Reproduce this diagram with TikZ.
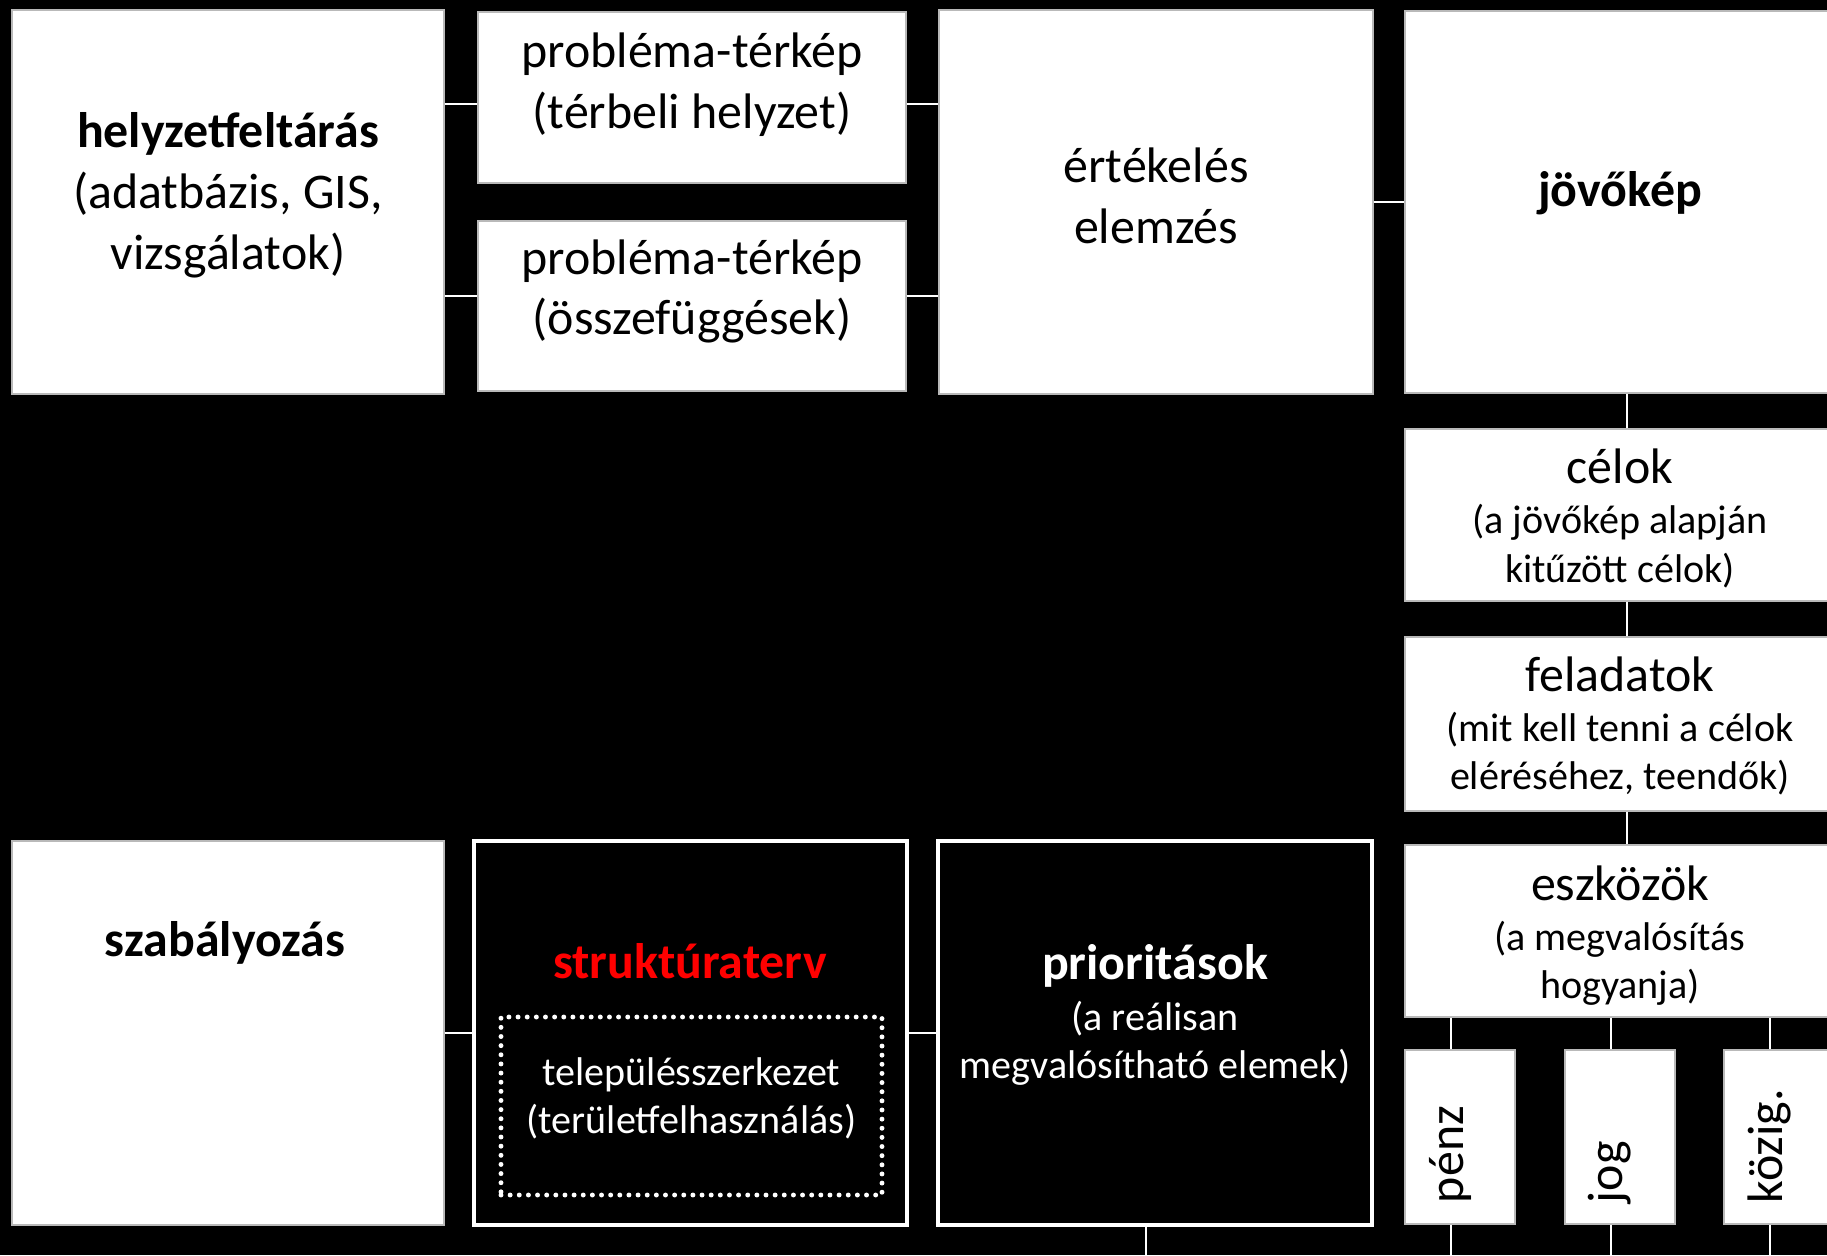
\documentclass[tikz,border=0pt]{standalone}
\usepackage{fontspec}
\setmainfont{Carlito}
\usetikzlibrary{positioning,calc}
\newcommand{\nagybetu}{\fontsize{14.2}{17.3}\selectfont}
\newcommand{\kisbetu}{\fontsize{11.4}{13.7}\selectfont}

\begin{document}
\begin{tikzpicture}[
    doboz/.style={draw=gray!55, fill=white, line width=0.4pt, inner sep=0pt},
    nagydoboz/.style={doboz, minimum width=4.32cm, minimum height=3.84cm},
    jobbdoboz/.style={doboz, minimum width=4.30cm, minimum height=1.72cm},
    keskeny/.style={doboz, minimum width=1.10cm, minimum height=1.74cm},
    feketedoboz/.style={draw=white, fill=black, line width=1pt, minimum width=4.33cm, minimum height=3.84cm},
    felirat/.style={align=center, inner sep=0pt, font=\nagybetu},
    alcim/.style={align=center, inner sep=0pt, font=\kisbetu},
    kapcsolo/.style={draw=white, line width=0.6pt},
    allo/.style={rotate=90, anchor=west, inner sep=0pt, font=\nagybetu}
]
    \useasboundingbox (0,0) rectangle (18.27,-12.55);
    \fill[black] (0,0) rectangle (18.27,-12.55);
    \clip (0,0) rectangle (18.27,-12.55);

    \node[nagydoboz] (helyzet) at (2.28,-2.02) {};
    \node[doboz, minimum width=4.28cm, minimum height=1.71cm] (terkep1) at (6.92,-0.975) {};
    \node[doboz, minimum width=4.28cm, minimum height=1.70cm] (terkep2) at (6.92,-3.06) {};
    \node[nagydoboz, minimum width=4.34cm] (ertekeles) at (11.56,-2.02) {};
    \node[nagydoboz, minimum width=4.30cm, minimum height=3.82cm] (jovokep) at (16.20,-2.02) {};
    \node[jobbdoboz] (celok) at (16.20,-5.15) {};
    \node[jobbdoboz, minimum height=1.74cm] (feladatok) at (16.20,-7.24) {};
    \node[jobbdoboz] (eszkozok) at (16.20,-9.31) {};
    \node[keskeny] (penz) at (14.60,-11.37) {};
    \node[keskeny] (jog) at (16.20,-11.37) {};
    \node[keskeny] (kozig) at (17.79,-11.37) {};
    \node[nagydoboz] (szabalyozas) at (2.28,-10.33) {};
    \node[feketedoboz] (strukturaterv) at (6.905,-10.33) {};
    \node[draw=white, line width=1.4pt, line cap=round, dash pattern=on 0pt off 2.6pt, minimum width=3.81cm, minimum height=1.78cm] (telepules) at (6.915,-11.06) {};
    \node[feketedoboz, minimum width=4.34cm] (prioritasok) at (11.55,-10.33) {};

    \node[felirat] (helyzetszoveg) at (2.28,-1.95) {\textbf{helyzetfeltárás}\\(adatbázis, GIS,\\vizsgálatok)};
    \node[felirat] (terkep1szoveg) at (6.92,-0.845) {probléma-térkép\\(térbeli helyzet)};
    \node[felirat] (terkep2szoveg) at (6.92,-2.915) {probléma-térkép\\(összefüggések)};
    \node[felirat] (ertekelesszoveg) at (11.56,-1.96) {értékelés\\elemzés};
    \node[felirat] (jovokepszoveg) at (16.20,-1.93) {\textbf{jövőkép}};
    \node[alcim] (celokszoveg) at (16.20,-5.18) {{\nagybetu célok}\\[0.8pt](a jövőkép alapján\\kitűzött célok)};
    \node[alcim] (feladatokszoveg) at (16.20,-7.26) {{\nagybetu feladatok}\\[0.6pt](mit kell tenni a célok\\eléréséhez, teendők)};
    \node[alcim] (eszkozokszoveg) at (16.20,-9.355) {{\nagybetu eszközök}\\[0.6pt](a megvalósítás\\hogyanja)};
    \node[allo] (penzszoveg) at ($(penz.south)+(-0.10,0.21)$) {pénz};
    \node[allo] (jogszoveg) at ($(jog.south)+(-0.10,0.21)$) {jog};
    \node[allo] (kozigszoveg) at ($(kozig.south)+(-0.10,0.21)$) {közig.};
    \node[felirat, anchor=base] (szabalyozasszoveg) at (2.25,-9.565) {\textbf{szabályozás}};
    \node[felirat, anchor=base, text=red] (strukturatervszoveg) at (6.90,-9.785) {\textbf{struktúraterv}};
    \node[alcim, text=white] (telepulesszoveg) at (6.915,-10.985) {településszerkezet\\(területfelhasználás)};
    \node[alcim, text=white] (prioritasokszoveg) at (11.55,-10.15) {{\nagybetu\bfseries prioritások}\\[0.8pt](a reálisan\\megvalósítható elemek)};

    \coordinate (felso) at (0,-1.04);
    \coordinate (also) at (0,-2.96);
    \coordinate (tengely) at (16.27,0);
    \coordinate (alja) at (0,-12.8);
    \draw[kapcsolo] (helyzet.east |- felso) -- (terkep1.west |- felso);
    \draw[kapcsolo] (helyzet.east |- also) -- (terkep2.west |- also);
    \draw[kapcsolo] (terkep1.east |- felso) -- (ertekeles.west |- felso);
    \draw[kapcsolo] (terkep2.east |- also) -- (ertekeles.west |- also);
    \draw[kapcsolo] (ertekeles.east) -- (jovokep.west);
    \draw[kapcsolo] (jovokep.south -| tengely) -- (celok.north -| tengely);
    \draw[kapcsolo] (celok.south -| tengely) -- (feladatok.north -| tengely);
    \draw[kapcsolo] (feladatok.south -| tengely) -- (eszkozok.north -| tengely);
    \foreach \ag in {penz,jog,kozig}{
        \draw[kapcsolo] ($(\ag.north |- eszkozok.south)+(-0.09,0)$) -- ($(\ag.north)+(-0.09,0)$);
        \draw[kapcsolo] ($(\ag.south)+(-0.09,0)$) -- ($(\ag.south |- alja)+(-0.09,0)$);
    }
    \draw[kapcsolo] (szabalyozas.east) -- (strukturaterv.west);
    \draw[kapcsolo] (strukturaterv.east) -- (prioritasok.west);
    \draw[kapcsolo] ($(prioritasok.south)+(-0.09,0)$) -- ($(prioritasok.south |- alja)+(-0.09,0)$);
\end{tikzpicture}
\end{document}
